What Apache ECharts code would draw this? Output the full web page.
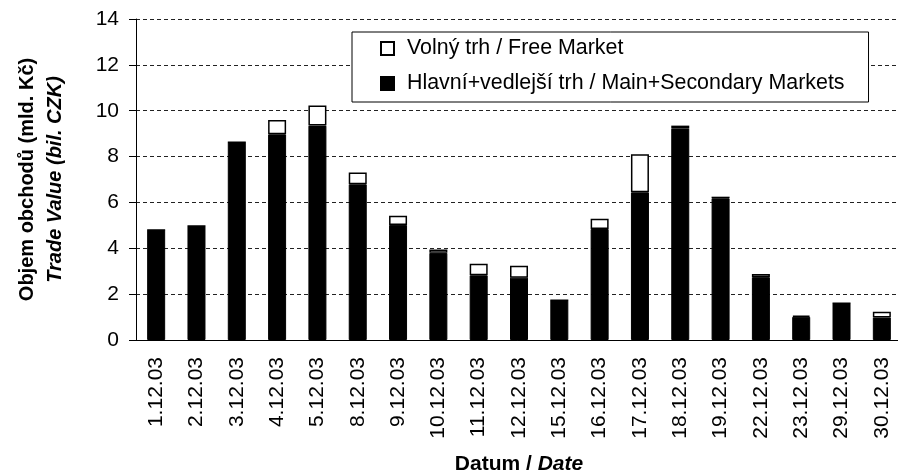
<!DOCTYPE html>
<html>
<head>
<meta charset="utf-8">
<script src="https://cdn.jsdelivr.net/npm/echarts@6/dist/echarts.min.js"></script>
<style>
  html, body { margin: 0; padding: 0; background: #fff; }
  #chart { width: 898px; height: 472px; }
</style>
</head>
<body>
<div id="chart"></div>
<script>
// Données (mld. Kč)
const dates = ['1.12.03', '2.12.03', '3.12.03', '4.12.03', '5.12.03', '8.12.03', '9.12.03',
  '10.12.03', '11.12.03', '12.12.03', '15.12.03', '16.12.03', '17.12.03', '18.12.03',
  '19.12.03', '22.12.03', '23.12.03', '29.12.03', '30.12.03'];
const mainMarkets = [4.80, 4.97, 8.62, 8.97, 9.35, 6.79, 5.02, 3.80, 2.82, 2.72,
  1.73, 4.84, 6.44, 9.22, 6.18, 2.74, 1.01, 1.60, 0.98];
const freeMarket = [0, 0, 0, 0.62, 0.88, 0.51, 0.40, 0.15, 0.51, 0.52,
  0, 0.45, 1.66, 0.13, 0.07, 0.14, 0.06, 0, 0.25];
const yTicks = { min: 0, max: 14, interval: 2 };

const FONT = 'Liberation Sans, Arial, sans-serif';
const nameFree = 'Volný trh / Free Market';
const nameMain = 'Hlavní+vedlejší trh / Main+Secondary Markets';

const chart = echarts.init(document.getElementById('chart'));

const option = {
    animation: false,
    textStyle: { fontFamily: FONT, color: '#000' },
    grid: { left: 136, top: 19, width: 766, bottom: 132, outerBoundsMode: 'none', containLabel: false },
    legend: {
        data: [nameFree, nameMain],
        orient: 'vertical',
        left: 352,
        top: 32,
        padding: [6, 24, 8, 28],
        itemGap: 14,
        itemWidth: 13,
        itemHeight: 13,
        icon: 'rect',
        borderColor: '#000',
        borderWidth: 1,
        backgroundColor: '#fff',
        textStyle: { fontSize: 21.4, fontFamily: FONT, color: '#000', padding: [0, 0, 0, 8] }
    },
    xAxis: {
        type: 'category',
        data: dates,
        axisLine: { lineStyle: { color: '#000', width: 1 } },
        axisTick: { length: 7, lineStyle: { color: '#000' } },
        axisLabel: { interval: 0, rotate: 90, margin: 17, fontSize: 21, color: '#000', fontFamily: FONT },
        name: '{a|Datum / }{b|Date}',
        nameLocation: 'middle',
        nameGap: 114,
        nameTextStyle: {
            rich: {
                a: { fontSize: 21, fontWeight: 'bold', fontFamily: FONT, color: '#000' },
                b: { fontSize: 21, fontWeight: 'bold', fontStyle: 'italic', fontFamily: FONT, color: '#000' }
            }
        }
    },
    yAxis: {
        type: 'value',
        min: yTicks.min,
        max: yTicks.max,
        interval: yTicks.interval,
        axisLine: { show: true, lineStyle: { color: '#000', width: 1 } },
        axisTick: { show: true, length: 7, lineStyle: { color: '#000' } },
        axisLabel: { margin: 17, fontSize: 21, color: '#000', fontFamily: FONT },
        splitLine: { lineStyle: { color: '#222', type: [4, 3], width: 1 } },
        name: '{a|Objem obchodů (mld. Kč)}\n{b|Trade Value (bil. CZK)}',
        nameLocation: 'middle',
        nameRotate: 90,
        nameGap: 67,
        nameTextStyle: {
            rich: {
                a: { fontSize: 20, lineHeight: 28, fontWeight: 'bold', fontFamily: FONT, color: '#000' },
                b: { fontSize: 20, lineHeight: 28, fontWeight: 'bold', fontStyle: 'italic', fontFamily: FONT, color: '#000' }
            }
        }
    },
    series: [
        {
            name: nameMain,
            type: 'bar',
            stack: 'total',
            barWidth: 18,
            data: mainMarkets,
            itemStyle: { color: '#000', borderColor: '#000', borderWidth: 1 }
        },
        {
            name: nameFree,
            type: 'bar',
            stack: 'total',
            barWidth: 18,
            data: freeMarket,
            itemStyle: { color: '#fff', borderColor: '#000', borderWidth: 1.5 }
        }
    ]
};

chart.setOption(option);
</script>
</body>
</html>
